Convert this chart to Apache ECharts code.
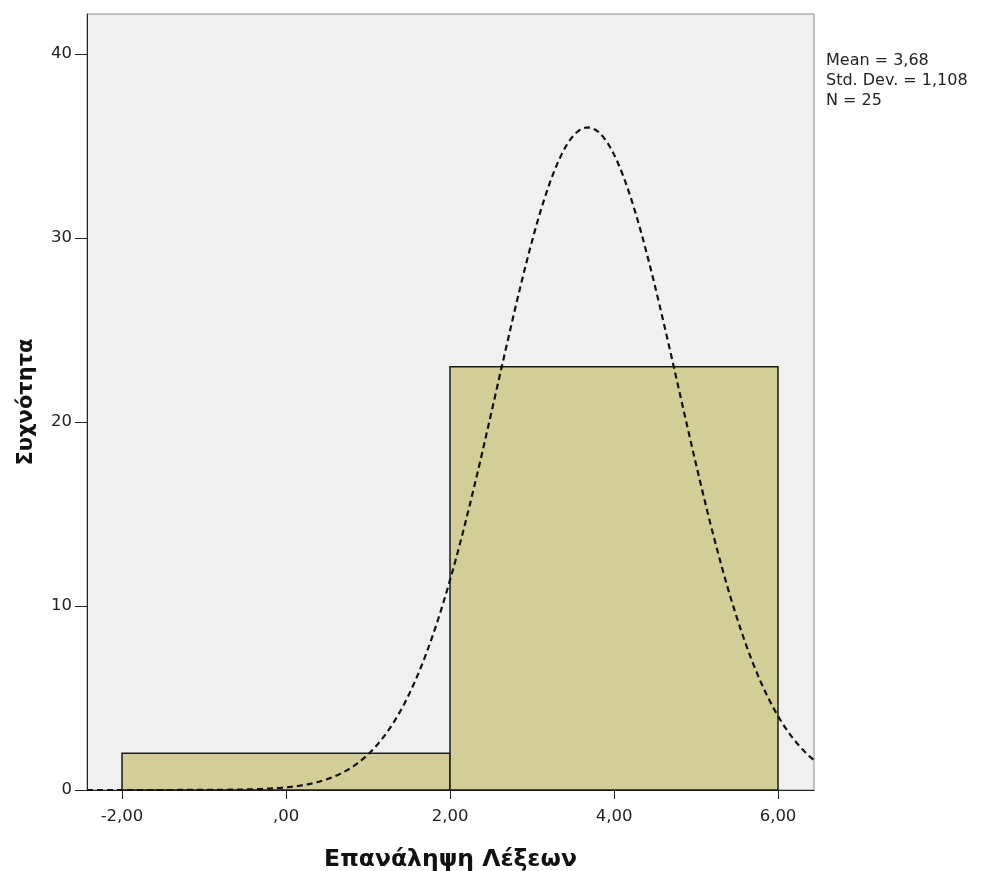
<!DOCTYPE html>
<html>
<head>
<meta charset="utf-8">
<script src="https://cdn.jsdelivr.net/npm/echarts@6/dist/echarts.min.js"></script>
<style>
  html, body { margin: 0; padding: 0; background: #ffffff; }
  #chart { width: 981px; height: 871px; }
</style>
</head>
<body>
<div id="chart"></div>
<script>
// Histogram bins: [lower edge, upper edge, frequency]
const binLower = [-2, 2];
const binUpper = [2, 6];
const binCount = [2, 23];

// Summary statistics shown beside the plot
const statMean = 3.68;
const statSd = 1.108;
const statN = 25;

// Axis ticks
const xTicks = [-2, 0, 2, 4, 6];
const yTicks = [0, 10, 20, 30, 40];

const xMin = -2.427, xMax = 6.439;
const yMin = 0, yMax = 42.17;

// Fitted normal curve scaled to frequency (N * bin width * density)
const binWidth = binUpper[0] - binLower[0];
const curve = [];
for (let i = 0; i <= 300; i++) {
  const x = xMin + (xMax - xMin) * i / 300;
  const z = (x - statMean) / statSd;
  const y = statN * binWidth * Math.exp(-0.5 * z * z) / (statSd * Math.sqrt(2 * Math.PI));
  curve.push([x, y]);
}

const bins = binLower.map((lo, i) => [lo, binUpper[i], binCount[i]]);

const fmt = v => {
  const s = Math.abs(v).toFixed(2).replace('.', ',');
  const t = s.startsWith('0,') ? s.slice(1) : s;
  return (v < 0 ? '-' : '') + t;
};

const chart = echarts.init(document.getElementById('chart'), null, { renderer: 'canvas' });
const font = '"DejaVu Sans", Verdana, sans-serif';

chart.setOption({
  animation: false,
  grid: {
    left: 87, right: 167, top: 14, bottom: 81,
    outerBoundsMode: 'none', containLabel: false,
    show: true, backgroundColor: '#f0f0f0', borderColor: '#8a8a8a', borderWidth: 1
  },
  xAxis: {
    type: 'value', min: xMin, max: xMax,
    name: 'Επανάληψη Λέξεων', nameLocation: 'middle', nameGap: 58,
    nameTextStyle: { fontFamily: font, fontSize: 23.5, fontWeight: 'bold', color: '#111' },
    splitLine: { show: false },
    axisLine: { show: true, onZero: false, lineStyle: { color: '#222', width: 1 } },
    axisTick: { show: true, length: 9, customValues: xTicks, lineStyle: { color: '#222' } },
    axisLabel: { customValues: xTicks, formatter: fmt, margin: 18, fontFamily: font, fontSize: 16.5, color: '#222' }
  },
  yAxis: {
    type: 'value', min: yMin, max: yMax,
    name: 'Συχνότητα', nameLocation: 'middle', nameGap: 50,
    nameTextStyle: { fontFamily: font, fontSize: 21, fontWeight: 'bold', color: '#111' },
    splitLine: { show: false },
    axisLine: { show: true, onZero: false, lineStyle: { color: '#222', width: 1 } },
    axisTick: { show: true, length: 12, customValues: yTicks, lineStyle: { color: '#222' } },
    axisLabel: { customValues: yTicks, margin: 15, fontFamily: font, fontSize: 16.5, color: '#222' }
  },
  graphic: [{
    type: 'text', left: 826, top: 51,
    style: {
      text: 'Mean = ' + String(statMean).replace('.', ',') +
            '\nStd. Dev. = ' + String(statSd).replace('.', ',') +
            '\nN = ' + statN,
      font: '16px ' + font, fill: '#222', lineHeight: 20
    }
  }],
  series: [
    {
      type: 'custom',
      data: bins,
      encode: { x: [0, 1], y: 2 },
      z: 2,
      renderItem: (params, api) => {
        const p0 = api.coord([api.value(0), api.value(2)]);
        const p1 = api.coord([api.value(1), 0]);
        return {
          type: 'rect',
          shape: { x: p0[0], y: p0[1], width: p1[0] - p0[0], height: p1[1] - p0[1] },
          style: { fill: '#d3ce98', stroke: '#1a1a1a', lineWidth: 1.5 }
        };
      }
    },
    {
      type: 'line',
      data: curve,
      showSymbol: false,
      z: 3,
      clip: true,
      lineStyle: { color: '#111', width: 2.2, type: [6, 4] }
    }
  ]
});
</script>
</body>
</html>
